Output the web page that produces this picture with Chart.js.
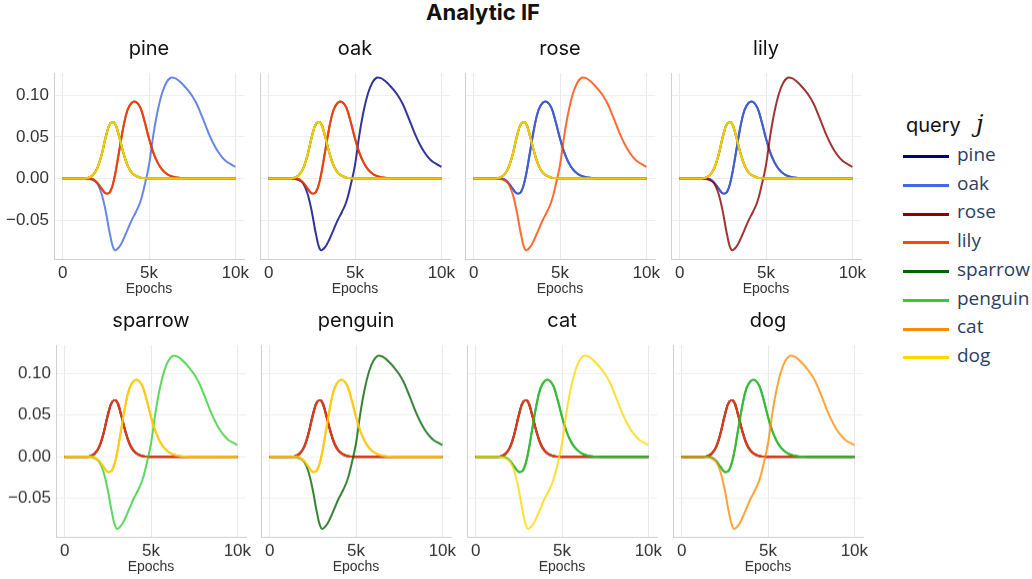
<!DOCTYPE html>
<html>
<head>
<meta charset="utf-8">
<script src="https://cdn.jsdelivr.net/npm/chart.js@4/dist/chart.umd.min.js"></script>
<style>
  html, body { margin: 0; padding: 0; background: #fff; }
  #fig { position: relative; width: 1032px; height: 579px; overflow: hidden; background: #fff; }
  #fig canvas { position: absolute; }
  .title { position: absolute; left: 0; top: 1px; width: 966px; text-align: center;
    font: 700 22px/22px Inter, "Noto Sans", sans-serif; color: #111; }
  .ptitle { position: absolute; width: 190px; text-align: center;
    font: 400 20px/20px Inter, "Noto Sans", sans-serif; color: #111; }
  .lg-head { position: absolute; left: 906px; top: 115px; font: 400 20px/20px Inter, sans-serif; color: #111; white-space: nowrap; }
  .lg-j { position: absolute; left: 976px; top: 112px; font: italic 400 24px/24px "DejaVu Serif", serif; color: #111; }
  .lg-line { position: absolute; left: 903px; width: 46px; height: 3px; }
  .lg-text { position: absolute; left: 957px; font: 400 19px/19px "Open Sans", sans-serif; color: #2a3f5f; white-space: nowrap; }
</style>
</head>
<body>
<div id="fig">
  <div class="title">Analytic IF</div>
</div>
<script>
// ---- data ----
const queries = ['pine', 'oak', 'rose', 'lily', 'sparrow', 'penguin', 'cat', 'dog'];
const queryColors = ['#000080', '#4169e1', '#8b0000', '#ff4500', '#006400', '#32cd32', '#ff8c00', '#ffd700'];
// pine/oak = trees, rose/lily = flowers, sparrow/penguin = birds, cat/dog = mammals
const queryGroups = [0, 0, 1, 1, 2, 2, 3, 3];

const epochs = [0, 250, 500, 750, 1000, 1250, 1500, 1750, 2000, 2250, 2500, 2750, 3000, 3250, 3500, 3750,
  4000, 4250, 4500, 4750, 5000, 5250, 5500, 5750, 6000, 6250, 6500, 6750, 7000, 7250, 7500, 7750,
  8000, 8250, 8500, 8750, 9000, 9250, 9500, 9750, 10000];

// query from the same group (big curve)
const siblingIF = [0, 0, 0, 0, 0, 0, -0.0005, -0.002, -0.006, -0.018, -0.040, -0.068, -0.086, -0.083, -0.074, -0.062,
  -0.050, -0.040, -0.028, -0.008, 0.016, 0.052, 0.081, 0.102, 0.115, 0.121, 0.1205, 0.117, 0.112, 0.106, 0.099, 0.090,
  0.078, 0.065, 0.052, 0.041, 0.032, 0.025, 0.020, 0.017, 0.014];
// other group, same kingdom (middle curve)
const kinIF = [0, 0, 0, 0, 0, 0, 0, -0.001, -0.005, -0.012, -0.018, -0.016, 0.001, 0.030, 0.060, 0.082,
  0.091, 0.092, 0.085, 0.068, 0.048, 0.031, 0.019, 0.011, 0.006, 0.003, 0.0015, 0.0007, 0.0003, 0, 0, 0,
  0, 0, 0, 0, 0, 0, 0, 0, 0];
// other kingdom (small early curve)
const distantIF = [0, 0, 0, 0, 0, 0, 0.001, 0.004, 0.012, 0.028, 0.050, 0.066, 0.067, 0.052, 0.032, 0.016,
  0.007, 0.003, 0.001, 0.0003, 0, 0, 0, 0, 0, 0, 0, 0, 0, 0, 0, 0,
  0, 0, 0, 0, 0, 0, 0, 0, 0];

const xTicks = [0, 5000, 10000];
const xTickLabels = ['0', '5k', '10k'];
const yTicks = [-0.05, 0, 0.05, 0.10];
const yMinByRow = [-0.0968, -0.096];
const yMaxByRow = [0.1267, 0.134];

// ---- layout ----
const plotLeft = [[54, 260, 465, 671], [56, 261, 467, 673]];
const plotTop = [72.7, 345];
const plotBottom = [259, 536.7];
const plotW = 190;
const titleTop = [37.7, 310];
const yAxisW = 60, padT = 18, padR = 22, xAxisH = 40, padB = 4;

function fade(hex, a) {
  const n = parseInt(hex.slice(1), 16);
  return `rgba(${n >> 16},${(n >> 8) & 255},${n & 255},${a})`;
}

function panelDatasets(i) {
  const ds = [];
  queries.forEach((q, j) => {
    if (j === i) return;
    let curve = distantIF;
    if (queryGroups[j] === queryGroups[i]) curve = siblingIF;
    else if ((queryGroups[j] >> 1) === (queryGroups[i] >> 1)) curve = kinIF;
    ds.push({
      label: q,
      data: epochs.map((e, k) => ({ x: e, y: curve[k] })),
      borderColor: fade(queryColors[j], 0.8),
      borderWidth: 2,
      pointRadius: 0,
      tension: 0.4,
      fill: false,
      order: queries.length - j   // later queries drawn on top
    });
  });
  return ds;
}

const fig = document.getElementById('fig');

queries.forEach((q, i) => {
  const row = Math.floor(i / 4), col = i % 4;
  const left = plotLeft[row][col], top = plotTop[row];
  const plotH = plotBottom[row] - top;
  const cw = yAxisW + plotW + padR;
  const ch = padT + plotH + xAxisH + padB;

  const canvas = document.createElement('canvas');
  canvas.width = cw;
  canvas.height = ch;
  canvas.style.left = (left - yAxisW) + 'px';
  canvas.style.top = (top - padT) + 'px';
  canvas.style.width = cw + 'px';
  canvas.style.height = ch + 'px';
  fig.appendChild(canvas);

  const t = document.createElement('div');
  t.className = 'ptitle';
  t.textContent = q;
  t.style.left = left + 'px';
  t.style.top = titleTop[row] + 'px';
  fig.appendChild(t);

  new Chart(canvas.getContext('2d'), {
    type: 'line',
    data: { datasets: panelDatasets(i) },
    options: {
      responsive: false,
      animation: false,
      events: [],
      layout: { padding: { left: 0, top: padT, right: padR, bottom: padB } },
      plugins: { legend: { display: false }, tooltip: { enabled: false } },
      scales: {
        x: {
          type: 'linear',
          min: -500, max: 10500,
          afterBuildTicks: s => { s.ticks = xTicks.map(v => ({ value: v })); },
          afterFit: s => { s.height = xAxisH; },
          ticks: {
            callback: v => xTickLabels[xTicks.indexOf(v)],
            font: { family: '"Liberation Sans", Arial, sans-serif', size: 17 },
            color: '#333', padding: 4, maxRotation: 0, autoSkip: false
          },
          grid: { color: '#e9e9e9', drawTicks: false },
          border: { color: '#cfcfcf', width: 1 },
          title: {
            display: true, text: 'Epochs', color: '#333',
            font: { family: '"Liberation Sans", Arial, sans-serif', size: 14 },
            padding: { top: 0, bottom: 1 }
          }
        },
        y: {
          min: yMinByRow[row], max: yMaxByRow[row],
          afterBuildTicks: s => { s.ticks = yTicks.map(v => ({ value: v })); },
          afterFit: s => { s.width = yAxisW; },
          ticks: {
            display: col === 0,
            callback: v => v.toFixed(2).replace('-', '\u2212'),
            font: { family: '"Liberation Sans", Arial, sans-serif', size: 17 },
            color: '#333', padding: 5
          },
          grid: { color: '#efefef', drawTicks: false },
          border: { color: '#cfcfcf', width: 1 }
        }
      }
    }
  });
});

// ---- legend ----
const head = document.createElement('div');
head.className = 'lg-head';
head.textContent = 'query';
fig.appendChild(head);
const jj = document.createElement('div');
jj.className = 'lg-j';
jj.textContent = 'j';
fig.appendChild(jj);

queries.forEach((q, k) => {
  const y = 156.7 + k * 28.72;
  const line = document.createElement('div');
  line.className = 'lg-line';
  line.style.top = (y - 1.5) + 'px';
  line.style.background = queryColors[k];
  fig.appendChild(line);
  const txt = document.createElement('div');
  txt.className = 'lg-text';
  txt.style.top = (y - 11.8) + 'px';
  txt.textContent = q;
  fig.appendChild(txt);
});
</script>
</body>
</html>
